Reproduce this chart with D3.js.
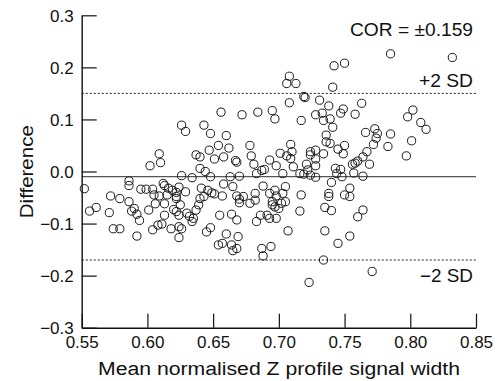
<!DOCTYPE html>
<html><head><meta charset="utf-8">
<script src="https://cdn.jsdelivr.net/npm/d3@7"></script>
<style>
html,body{margin:0;padding:0;background:#fff;}
svg{display:block;}
text{font-family:"Liberation Sans",Arial,Helvetica,sans-serif;fill:#111;}
</style></head>
<body>
<svg id="chart" width="501" height="381"></svg>
<script>
// ---- data ----
const xTicks = [0.55, 0.60, 0.65, 0.70, 0.75, 0.80, 0.85];
const yTicks = [-0.3, -0.2, -0.1, 0.0, 0.1, 0.2, 0.3];
const xLabel = "Mean normalised Z profile signal width";
const yLabel = "Difference";
const corLabel = "COR = \u00B10.159";
const sdLabels = ["+2 SD", "\u22122 SD"];
const meanDiff = -0.01;
const sdLines = [0.15, -0.17];

const meanWidth = [
  0.602,0.609,0.610,0.626,0.629,0.637,0.640,0.640,0.626,0.634,
  0.552,0.556,0.561,0.572,0.571,0.574,0.579,0.579,0.586,0.586,
  0.586,0.588,0.590,0.592,0.594,0.592,0.595,0.599,0.604,0.601,
  0.604,0.605,0.609,0.606,0.608,0.611,0.612,0.613,0.616,0.619,
  0.624,0.622,0.629,0.613,0.613,0.620,0.622,0.624,0.625,0.622,
  0.615,0.622,0.618,0.624,0.626,0.624,0.630,0.632,0.635,0.634,
  0.637,0.639,0.643,0.648,0.656,0.672,0.684,0.695,0.697,0.660,
  0.678,0.647,0.654,0.662,0.651,0.658,0.667,0.668,0.679,0.681,
  0.693,0.701,0.706,0.710,0.709,0.708,0.706,0.713,0.708,0.717,
  0.719,0.720,0.728,0.733,0.731,0.738,0.734,0.739,0.741,0.741,
  0.736,0.736,0.739,0.724,0.728,0.724,0.734,0.709,0.728,0.721,
  0.722,0.728,0.644,0.648,0.663,0.670,0.683,0.687,0.689,0.698,
  0.703,0.711,0.716,0.719,0.724,0.728,
  0.658,0.665,0.740,0.641,0.646,0.649,0.651,0.657,0.640,0.643,
  0.668,0.670,0.673,0.670,0.678,0.682,0.682,0.688,0.693,0.697,
  0.698,0.695,0.695,0.697,0.700,0.702,0.703,0.705,0.705,0.717,
  0.716,0.738,0.738,0.735,0.740,0.655,0.664,0.668,0.683,0.686,
  0.691,0.693,0.698,0.645,0.648,0.660,0.669,0.654,0.657,0.664,
  0.668,0.665,0.687,0.694,0.688,0.707,0.735,0.734,0.723,
  0.742,0.750,0.785,0.832,0.763,0.749,0.747,0.758,0.802,0.798,
  0.808,0.812,0.766,0.773,0.775,0.774,0.785,0.801,0.783,0.797,
  0.772,0.767,0.764,0.760,0.758,0.756,0.769,0.750,0.749,0.745,
  0.743,0.747,0.744,0.748,0.757,0.764,0.754,0.750,0.754,0.764,
  0.760,0.754,0.745,0.771
];
const difference = [
  0.011,0.034,0.017,0.089,0.077,0.032,0.028,0.006,-0.008,-0.012,
  -0.033,-0.076,-0.069,-0.047,-0.079,-0.110,-0.110,-0.052,-0.018,-0.027,
  -0.058,-0.076,-0.071,-0.082,-0.094,-0.124,-0.034,-0.034,-0.034,-0.074,
  -0.112,-0.045,-0.047,-0.062,-0.103,-0.101,-0.023,-0.027,-0.032,-0.036,
  -0.030,-0.040,-0.039,-0.062,-0.084,-0.073,-0.077,-0.084,-0.064,-0.052,
  -0.045,-0.048,-0.110,-0.106,-0.110,-0.127,-0.080,-0.086,-0.090,-0.096,
  -0.074,-0.064,0.089,0.073,0.114,0.109,0.114,0.117,0.101,0.069,
  0.050,0.041,0.050,0.045,0.024,0.028,0.021,0.018,0.030,0.014,
  0.022,0.035,0.030,0.038,0.025,0.183,0.169,0.169,0.132,0.098,
  0.144,0.142,0.109,0.112,0.137,0.126,0.098,0.101,0.085,0.162,
  0.070,0.057,0.054,0.038,0.041,0.032,0.034,0.052,0.024,0.014,
  0.003,0.011,0.000,-0.010,-0.010,-0.009,-0.004,0.002,0.004,0.011,
  -0.004,0.009,-0.004,-0.005,-0.007,-0.011,
  -0.024,-0.029,-0.021,-0.032,-0.036,-0.041,-0.043,-0.047,-0.052,-0.048,
  -0.047,-0.053,-0.048,-0.060,-0.061,-0.042,-0.055,-0.028,-0.042,-0.036,
  -0.047,-0.058,-0.064,-0.068,-0.071,-0.061,-0.042,-0.029,-0.058,-0.045,
  -0.076,-0.042,-0.048,-0.069,-0.075,-0.084,-0.082,-0.093,-0.096,-0.084,
  -0.084,-0.090,-0.090,-0.116,-0.108,-0.120,-0.125,-0.141,-0.138,-0.141,
  -0.148,-0.152,-0.148,-0.144,-0.162,-0.114,-0.114,-0.170,-0.213,
  0.203,0.208,0.226,0.219,0.131,0.120,0.112,0.110,0.118,0.105,
  0.094,0.081,0.075,0.082,0.073,0.064,0.072,0.059,0.048,0.030,
  0.052,0.038,0.028,0.020,0.016,0.014,0.014,0.050,0.034,0.043,
  0.006,0.004,-0.004,-0.010,-0.003,-0.009,-0.032,-0.045,-0.048,-0.074,
  -0.087,-0.124,-0.138,-0.192
];

// ---- drawing ----
const svg = d3.select("#chart");
const L = 81.7, R = 476, T = 15.3, B = 327.7;
const x = d3.scaleLinear().domain([0.55, 0.85]).range([L, R]);
const y = d3.scaleLinear().domain([-0.3, 0.3]).range([B, T]);

// reference lines
svg.append("line").attr("x1", L).attr("x2", R)
  .attr("y1", y(meanDiff)).attr("y2", y(meanDiff))
  .attr("stroke", "#555").attr("stroke-width", 1.3);
svg.selectAll("line.sd").data(sdLines).join("line").attr("class", "sd")
  .attr("x1", L).attr("x2", R)
  .attr("y1", d => y(d)).attr("y2", d => y(d))
  .attr("stroke", "#333").attr("stroke-width", 1).attr("stroke-dasharray", "2.2,1.8");

// points
const pts = meanWidth.map((m, i) => [m, difference[i]]);
svg.append("g").selectAll("circle").data(pts).join("circle")
  .attr("cx", d => x(d[0])).attr("cy", d => y(d[1])).attr("r", 4.1)
  .attr("fill", "none").attr("stroke", "#1a1a1a").attr("stroke-width", 1);

// axes
const xAxis = d3.axisBottom(x).tickValues(xTicks).tickFormat(d3.format(".2f"))
  .tickSizeInner(-14).tickSizeOuter(0).tickPadding(8);
const yAxis = d3.axisLeft(y).tickValues(yTicks).tickFormat(d3.format(".1f"))
  .tickSizeInner(-15).tickSizeOuter(0).tickPadding(8);
const gx = svg.append("g").attr("transform", `translate(0,${B})`).call(xAxis);
const gy = svg.append("g").attr("transform", `translate(${L},0)`).call(yAxis);
[gx, gy].forEach(g => {
  g.select(".domain").attr("stroke", "#111").attr("stroke-width", 1.4);
  g.selectAll(".tick line").attr("stroke", "#111").attr("stroke-width", 1.2);
  g.selectAll(".tick text").attr("font-size", 17).attr("fill", "#111")
    .style("font-family", '"Liberation Sans", Arial, sans-serif');
});
gy.selectAll(".tick text").attr("dy", "0.36em");

// labels
svg.append("text").attr("x", 279).attr("y", 375).attr("text-anchor", "middle")
  .attr("font-size", 18).attr("textLength", 362).attr("lengthAdjust", "spacingAndGlyphs")
  .text(xLabel);
svg.append("text").attr("transform", "translate(33,171.7) rotate(-90)")
  .attr("text-anchor", "middle").attr("font-size", 18)
  .attr("textLength", 93).attr("lengthAdjust", "spacingAndGlyphs").text(yLabel);
svg.append("text").attr("x", 473).attr("y", 35.7).attr("text-anchor", "end")
  .attr("font-size", 18).attr("textLength", 123).attr("lengthAdjust", "spacingAndGlyphs").text(corLabel);
svg.selectAll("text.sdl").data(sdLabels).join("text").attr("class", "sdl")
  .attr("x", 473).attr("y", (d, i) => i === 0 ? 87.3 : 281.7)
  .attr("text-anchor", "end").attr("font-size", 18)
  .attr("textLength", (d, i) => i === 0 ? 54 : 53).attr("lengthAdjust", "spacingAndGlyphs")
  .text(d => d);
</script>
</body></html>
